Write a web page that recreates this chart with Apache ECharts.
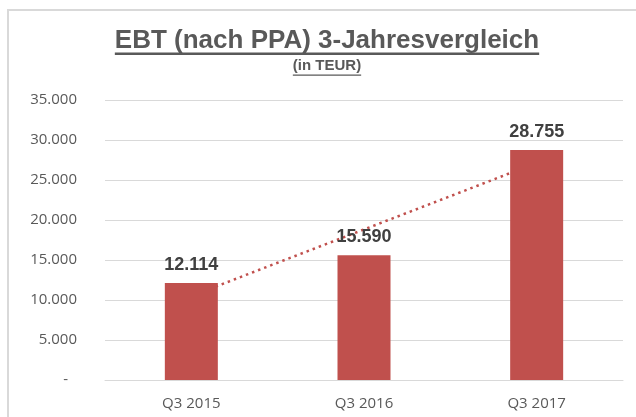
<!DOCTYPE html>
<html>
<head>
<meta charset="utf-8">
<script src="https://cdn.jsdelivr.net/npm/echarts@6/dist/echarts.min.js"></script>
<style>
  html, body { margin: 0; padding: 0; background: #fff; }
  #chart { width: 636px; height: 417px; }
</style>
</head>
<body>
<div id="chart"></div>
<script>
var quarters = ['Q3 2015', 'Q3 2016', 'Q3 2017'];
var ebt = [12114, 15590, 28755];
// linear trend line, at the bar centres
var trend = [10500, 18820, 27140];

var titleText = 'EBT (nach PPA) 3-Jahresvergleich';
var subText = '(in TEUR)';
var titleFont = 'bold 26px "Liberation Sans", Arial, sans-serif';
var subFont = 'bold 15px "Liberation Sans", Arial, sans-serif';

function fmt(v) {
    return String(v).replace(/\B(?=(\d{3})+(?!\d))/g, '.');
}

function textWidth(text, font) {
    var ctx = document.createElement('canvas').getContext('2d');
    ctx.font = font;
    return ctx.measureText(text).width;
}

var titleW = textWidth(titleText, titleFont);
var subW = textWidth(subText, subFont);
var cx = 327;

var chart = echarts.init(document.getElementById('chart'));
var option = {
    backgroundColor: '#fff',
    animation: false,
    grid: { left: 105, right: 13, top: 100, bottom: 37 },
    graphic: [
        {
            type: 'rect', silent: true, z: -10,
            shape: { x: 8, y: 10, width: 700, height: 500 },
            style: { fill: '#fff', stroke: '#d9d9d9', lineWidth: 2 }
        },
        {
            type: 'text', x: cx, y: 41,
            style: {
                text: titleText, font: titleFont, fill: '#595959',
                align: 'center', verticalAlign: 'middle',
                textAlign: 'center', textVerticalAlign: 'middle'
            }
        },
        {
            type: 'rect', silent: true,
            shape: { x: cx - titleW / 2, y: 52.5, width: titleW, height: 2.5 },
            style: { fill: '#595959' }
        },
        {
            type: 'text', x: cx, y: 66,
            style: {
                text: subText, font: subFont, fill: '#595959',
                align: 'center', verticalAlign: 'middle',
                textAlign: 'center', textVerticalAlign: 'middle'
            }
        },
        {
            type: 'rect', silent: true,
            shape: { x: cx - subW / 2, y: 74.5, width: subW, height: 1.3 },
            style: { fill: '#595959' }
        }
    ],
    xAxis: {
        type: 'category',
        data: quarters,
        axisTick: { show: false },
        axisLine: { lineStyle: { color: '#d9d9d9', width: 1 } },
        axisLabel: {
            margin: 16,
            color: '#595959',
            fontSize: 15,
            fontFamily: '"Open Sans", sans-serif'
        }
    },
    yAxis: {
        type: 'value',
        min: 0,
        max: 35000,
        interval: 5000,
        axisLine: { show: false },
        axisTick: { show: false },
        splitLine: { lineStyle: { color: '#d9d9d9', width: 1 } },
        axisLabel: {
            margin: 28,
            color: '#595959',
            fontSize: 15,
            fontFamily: '"Open Sans", sans-serif',
            formatter: function (v) {
                return v === 0 ? '{d|-}' : fmt(v);
            },
            rich: {
                d: { padding: [0, 9, 0, 0], color: '#595959', fontSize: 15, fontFamily: '"Open Sans", sans-serif' }
            }
        }
    },
    series: [
        {
            type: 'line',
            data: trend,
            z: 1,
            symbol: 'none',
            silent: true,
            lineStyle: { color: '#C0504D', width: 2.5, type: [2.5, 4] }
        },
        {
            type: 'bar',
            data: ebt,
            z: 3,
            barWidth: 53,
            itemStyle: { color: '#C0504D' },
            label: {
                show: true,
                position: 'top',
                distance: 9,
                color: '#404040',
                fontSize: 18,
                fontWeight: 'bold',
                fontFamily: '"Liberation Sans", Arial, sans-serif',
                formatter: function (p) { return fmt(p.value); }
            }
        }
    ]
};
chart.setOption(option);
</script>
</body>
</html>
